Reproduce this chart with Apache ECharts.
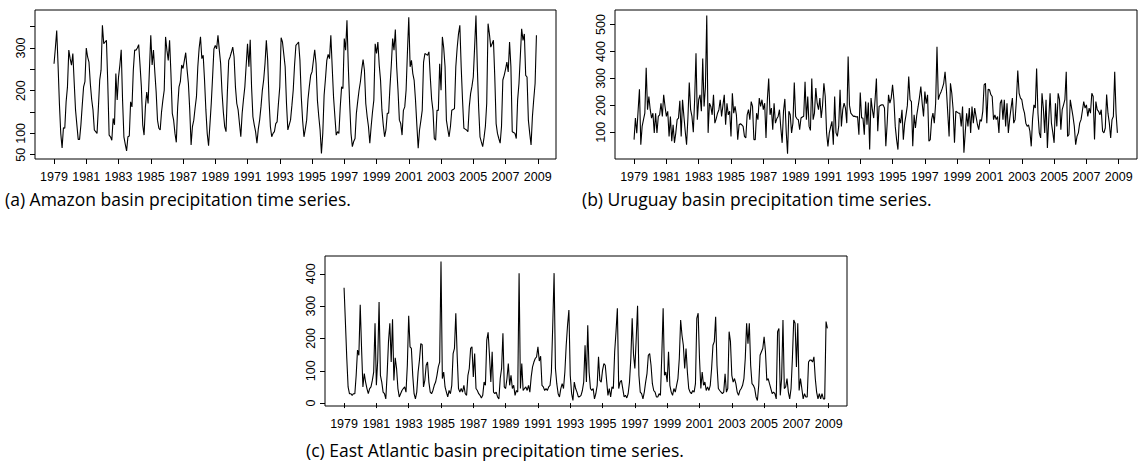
<!DOCTYPE html>
<html>
<head>
<meta charset="utf-8">
<title>Basin precipitation time series</title>
<script src="https://cdn.jsdelivr.net/npm/echarts@6/dist/echarts.min.js"></script>
<style>
  body { margin: 0; background: #fff; }
  #main { width: 1140px; height: 462px; }
</style>
</head>
<body>
<div id="main"></div>
<script>
// monthly values, Jan 1979 .. Dec 2008 (one row per year)
var startYear = 1979;

var amazon = [
  263, 300, 341, 260, 170, 100, 66, 113, 112, 174, 209, 295,
  275, 260, 287, 220, 155, 120, 86, 86, 120, 166, 209, 221,
  300, 279, 267, 217, 180, 155, 108, 104, 100, 160, 225, 248,
  353, 310, 314, 318, 217, 96, 92, 84, 135, 120, 240, 178,
  232, 260, 296, 178, 92, 75, 59, 92, 94, 174, 162, 248,
  295, 295, 300, 308, 260, 209, 120, 96, 162, 197, 170, 250,
  330, 260, 295, 244, 197, 131, 112, 108, 150, 178, 201, 326,
  295, 271, 318, 240, 147, 131, 100, 79, 162, 209, 221, 260,
  252, 271, 289, 250, 217, 155, 73, 116, 131, 160, 186, 256,
  300, 326, 275, 283, 225, 155, 100, 71, 120, 170, 232, 298,
  306, 298, 330, 295, 263, 197, 150, 116, 104, 197, 271, 279,
  290, 302, 279, 209, 170, 155, 123, 92, 147, 180, 209, 260,
  310, 256, 319, 209, 139, 120, 104, 77, 110, 131, 162, 200,
  225, 263, 318, 271, 178, 116, 92, 100, 104, 123, 127, 170,
  209, 324, 314, 285, 256, 170, 108, 120, 131, 165, 201, 260,
  306, 310, 314, 271, 186, 130, 92, 110, 131, 180, 210, 236,
  244, 270, 296, 263, 178, 140, 108, 53, 100, 190, 228, 271,
  285, 275, 330, 256, 186, 140, 96, 104, 100, 162, 209, 205,
  322, 295, 365, 256, 170, 100, 69, 81, 88, 147, 175, 201,
  221, 250, 273, 248, 170, 140, 116, 77, 116, 150, 178, 310,
  287, 314, 260, 224, 155, 120, 92, 108, 147, 147, 209, 260,
  322, 295, 343, 256, 200, 131, 123, 96, 154, 162, 201, 290,
  372, 256, 271, 240, 224, 178, 120, 65, 108, 130, 154, 267,
  287, 285, 283, 291, 232, 180, 154, 88, 84, 154, 154, 263,
  201, 326, 300, 256, 131, 110, 92, 116, 154, 156, 158, 256,
  300, 333, 353, 256, 178, 112, 110, 108, 104, 162, 193, 210,
  232, 302, 376, 256, 160, 92, 80, 69, 90, 116, 170, 357,
  333, 302, 310, 318, 232, 123, 100, 88, 77, 116, 225, 236,
  250, 267, 244, 314, 256, 104, 102, 100, 88, 178, 217, 280,
  345, 318, 333, 236, 232, 131, 100, 73, 139, 180, 217, 330
];

var uruguay = [
  73, 153, 97, 180, 260, 54, 122, 147, 171, 340, 184, 233,
  184, 153, 171, 98, 171, 98, 159, 165, 208, 159, 239, 196,
  159, 178, 85, 159, 67, 128, 61, 98, 147, 153, 217, 85,
  221, 160, 104, 54, 153, 285, 184, 159, 100, 221, 393, 147,
  221, 239, 178, 374, 196, 267, 534, 98, 208, 196, 165, 239,
  134, 150, 171, 184, 221, 159, 200, 239, 128, 208, 165, 178,
  85, 245, 171, 196, 165, 73, 128, 132, 128, 122, 85, 79,
  165, 184, 147, 214, 196, 73, 73, 171, 147, 227, 196, 221,
  184, 208, 79, 221, 300, 165, 190, 110, 208, 134, 150, 159,
  184, 116, 61, 178, 224, 104, 21, 178, 165, 98, 134, 285,
  159, 150, 147, 110, 153, 157, 160, 288, 147, 233, 122, 107,
  300, 147, 171, 264, 208, 184, 227, 153, 200, 282, 233, 98,
  48, 98, 120, 141, 54, 233, 98, 85, 122, 258, 122, 184,
  208, 190, 134, 381, 200, 171, 165, 159, 160, 157, 159, 91,
  248, 153, 153, 91, 214, 128, 211, 36, 227, 184, 153, 221,
  300, 104, 196, 200, 202, 202, 190, 48, 134, 239, 208, 227,
  276, 221, 122, 73, 36, 153, 134, 184, 73, 134, 165, 200,
  307, 221, 214, 48, 165, 116, 165, 196, 230, 270, 208, 159,
  251, 206, 239, 67, 73, 147, 171, 134, 208, 418, 221, 239,
  250, 264, 282, 325, 258, 171, 85, 282, 245, 184, 61, 178,
  175, 171, 171, 122, 196, 24, 100, 171, 122, 190, 98, 196,
  134, 190, 159, 130, 110, 147, 141, 178, 276, 282, 134, 260,
  258, 240, 233, 147, 165, 147, 159, 98, 208, 221, 147, 221,
  122, 208, 98, 150, 190, 227, 134, 147, 221, 329, 245, 227,
  221, 190, 171, 134, 122, 128, 104, 48, 150, 202, 190, 337,
  171, 98, 79, 245, 190, 98, 221, 42, 147, 245, 134, 100,
  61, 208, 122, 245, 221, 110, 184, 202, 221, 325, 85, 91,
  221, 190, 159, 122, 54, 85, 98, 134, 147, 180, 214, 190,
  202, 159, 190, 171, 245, 233, 73, 214, 184, 178, 165, 184,
  104, 98, 116, 240, 171, 134, 79, 147, 159, 325, 171, 98
];

var eastAtlantic = [
  357, 250, 140, 50, 29, 29, 24, 29, 29, 86, 164, 148,
  304, 169, 50, 91, 65, 45, 29, 45, 50, 70, 96, 247,
  55, 133, 313, 86, 65, 34, 29, 13, 90, 190, 247, 127,
  259, 70, 140, 107, 45, 19, 29, 39, 45, 50, 34, 117,
  270, 174, 169, 86, 29, 13, 34, 96, 133, 184, 181, 50,
  70, 117, 127, 65, 34, 29, 39, 55, 65, 86, 112, 127,
  438, 76, 96, 50, 34, 19, 39, 29, 55, 153, 169, 278,
  148, 45, 34, 45, 34, 55, 29, 24, 86, 107, 169, 174,
  81, 153, 45, 39, 29, 24, 16, 24, 65, 55, 195, 219,
  148, 65, 159, 34, 29, 34, 19, 13, 76, 107, 216, 50,
  45, 76, 122, 55, 86, 45, 55, 24, 39, 34, 402, 45,
  122, 39, 45, 50, 39, 55, 34, 81, 112, 127, 138, 143,
  174, 130, 145, 55, 50, 39, 45, 39, 50, 55, 96, 241,
  402, 107, 60, 29, 19, 45, 60, 45, 96, 179, 241, 288,
  86, 30, 8, 65, 45, 34, 19, 20, 24, 39, 65, 179,
  65, 241, 96, 45, 39, 45, 13, 29, 55, 143, 70, 65,
  102, 122, 117, 70, 24, 45, 19, 50, 45, 159, 221, 293,
  45, 65, 70, 45, 19, 24, 16, 29, 65, 138, 262, 150,
  107, 200, 301, 86, 34, 29, 13, 34, 65, 91, 148, 153,
  117, 60, 39, 34, 19, 19, 29, 24, 148, 293, 86, 96,
  65, 159, 55, 34, 24, 45, 34, 55, 76, 138, 257, 210,
  179, 107, 169, 96, 45, 34, 29, 39, 34, 60, 262, 278,
  138, 45, 96, 55, 65, 39, 50, 39, 55, 107, 179, 190,
  267, 117, 45, 39, 34, 29, 34, 91, 34, 45, 221, 190,
  86, 65, 76, 60, 34, 24, 39, 45, 55, 76, 138, 247,
  184, 247, 117, 60, 55, 45, 19, 8, 55, 148, 159, 169,
  205, 159, 70, 76, 60, 45, 29, 34, 29, 13, 221, 231,
  24, 76, 257, 45, 50, 76, 34, 13, 45, 138, 257, 247,
  112, 247, 39, 76, 45, 13, 29, 19, 19, 127, 133, 133,
  127, 143, 76, 34, 13, 29, 13, 29, 13, 13, 252, 231
];

var yearTicks = [1979, 1981, 1983, 1985, 1987, 1989, 1991, 1993, 1995, 1997, 1999, 2001, 2003, 2005, 2007, 2009];
var amazonTicks = [50, 100, 150, 200, 250, 300, 350];
var amazonLabels = [50, 100, 200, 300];
var uruguayTicks = [100, 200, 300, 400, 500];
var atlanticTicks = [0, 100, 200, 300, 400];

var captions = [
  '(a) Amazon basin precipitation time series.',
  '(b) Uruguay basin precipitation time series.',
  '(c) East Atlantic basin precipitation time series.'
];

var tickFont = '"Liberation Sans", Arial, Helvetica, sans-serif';
var capFont = '"Open Sans", "Noto Sans", sans-serif';

function monthly(values) {
  return values.map(function (v, i) { return [startYear + i / 12, v]; });
}

function xAxisFor(g) {
  return {
    gridIndex: g, type: 'value', min: 1977.82, max: 2010.13,
    axisLine: { show: false },
    splitLine: { show: false },
    axisTick: { show: true, length: 5, customValues: yearTicks, lineStyle: { color: '#000' } },
    axisLabel: {
      customValues: yearTicks, margin: 11, fontSize: 12.5, color: '#000',
      fontFamily: tickFont, formatter: function (v) { return String(v); }
    }
  };
}

function yAxisFor(g, min, max, ticks, labels) {
  return {
    gridIndex: g, type: 'value', min: min, max: max,
    axisLine: { show: false },
    splitLine: { show: false },
    axisTick: { show: true, length: 5, customValues: ticks, lineStyle: { color: '#000' } },
    axisLabel: {
      customValues: labels, rotate: 90, margin: 8, fontSize: 12.5, color: '#000',
      fontFamily: tickFont, formatter: function (v) { return String(v); }
    }
  };
}

function lineFor(g, values) {
  return {
    type: 'line', xAxisIndex: g, yAxisIndex: g,
    data: monthly(values),
    symbol: 'none', showSymbol: false,
    lineStyle: { color: '#000', width: 1.1 },
    silent: true
  };
}

function captionFor(text, left, top) {
  return {
    text: text, left: left, top: top, padding: 0,
    textStyle: { fontFamily: capFont, fontSize: 17.5, fontWeight: 'normal', color: '#000' }
  };
}

var chart = echarts.init(document.getElementById('main'), null, { renderer: 'svg' });

chart.setOption({
  animation: false,
  backgroundColor: '#fff',
  title: [
    captionFor(captions[0], 5, 190),
    captionFor(captions[1], 582, 190),
    captionFor(captions[2], 306, 441)
  ],
  grid: [
    { left: 35, top: 10, width: 521, height: 149, show: true, borderColor: '#000', borderWidth: 1, backgroundColor: 'transparent' },
    { left: 615, top: 10, width: 522, height: 149, show: true, borderColor: '#000', borderWidth: 1, backgroundColor: 'transparent' },
    { left: 325, top: 256, width: 522, height: 150, show: true, borderColor: '#000', borderWidth: 1, backgroundColor: 'transparent' }
  ],
  xAxis: [xAxisFor(0), xAxisFor(1), xAxisFor(2)],
  yAxis: [
    yAxisFor(0, 40, 389, amazonTicks, amazonLabels),
    yAxisFor(1, 1, 554, uruguayTicks, uruguayTicks),
    yAxisFor(2, -9, 455, atlanticTicks, atlanticTicks)
  ],
  series: [
    lineFor(0, amazon),
    lineFor(1, uruguay),
    lineFor(2, eastAtlantic)
  ]
});
</script>
</body>
</html>
